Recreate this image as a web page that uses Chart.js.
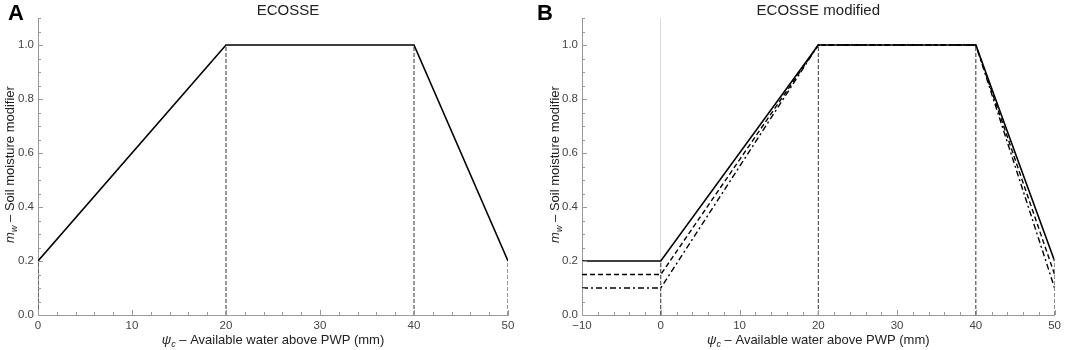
<!DOCTYPE html>
<html>
<head>
<meta charset="utf-8">
<script src="https://cdn.jsdelivr.net/npm/chart.js@4/dist/chart.umd.min.js"></script>
<style>
  body { margin: 0; background: #fff; font-family: "Liberation Sans", Arial, sans-serif; }
  #wrap { position: relative; width: 1065px; height: 350px; }
  .panel { position: absolute; top: 0; height: 350px; }
  #pa { left: 0; width: 530px; }
  #pb { left: 530px; width: 535px; }
  .tag { position: absolute; top: 0px; font-weight: bold; font-size: 22px; color: #000; }
</style>
</head>
<body>
<div id="wrap">
  <div class="panel" id="pa"><canvas id="chartA"></canvas></div>
  <div class="panel" id="pb"><canvas id="chartB"></canvas></div>
  <div class="tag" style="left:8px">A</div>
  <div class="tag" style="left:537px">B</div>
</div>
<script>
// panel A - original ECOSSE
var xA = [0, 20, 40, 50];
var yA = [0.2, 1.0, 1.0, 0.2];
var dropXA = [0, 20, 40, 50];
var dropTopA = [0.2, 1.0, 1.0, 0.2];

// panel B - modified, three variants
var xB = [-10, 0, 20, 40, 50];
var yB1 = [0.2, 0.2, 1.0, 1.0, 0.2];
var yB2 = [0.15, 0.15, 1.0, 1.0, 0.15];
var yB3 = [0.1, 0.1, 1.0, 1.0, 0.1];
var dropXB = [0, 20, 40, 50];
var dropTopB = [0.2, 1.0, 1.0, 0.2];

var titles = ['ECOSSE', 'ECOSSE modified'];
var xTitle = [['ψ', 'italic 13px'], ['c', 'italic 9px', 3], [' – Available water above PWP (mm)', '13px']];
var yTitle = [['m', 'italic 13px'], ['w', 'italic 9px', 3], [' – Soil moisture modifier', '13px']];

var FONT = '"Liberation Sans", Arial, sans-serif';

function pts(xs, ys) {
  return xs.map(function(x, i) { return { x: x, y: ys[i] }; });
}

function drops(xs, tops) {
  return xs.map(function(x, i) {
    return {
      data: [{ x: x, y: 0 }, { x: x, y: tops[i] }],
      borderColor: '#333', borderWidth: 1, borderDash: [4, 2],
      pointRadius: 0, fill: false
    };
  });
}

function drawParts(ctx, parts, cx, cy) {
  var w = 0;
  parts.forEach(function(p) { ctx.font = p[1] + ' ' + FONT; w += ctx.measureText(p[0]).width; });
  var x = cx - w / 2;
  parts.forEach(function(p) {
    ctx.font = p[1] + ' ' + FONT;
    ctx.fillText(p[0], x, cy + (p[2] || 0));
    x += ctx.measureText(p[0]).width;
  });
}

// titles, axis titles and inward tick marks
var decor = {
  id: 'decor',
  afterDraw: function(chart) {
    var ctx = chart.ctx, a = chart.chartArea, o = chart.options.plugins.decor;
    ctx.save();
    ctx.fillStyle = '#222';
    ctx.textBaseline = 'alphabetic';
    ctx.font = '15px ' + FONT;
    ctx.textAlign = 'center';
    ctx.fillText(o.title, (a.left + a.right) / 2 + o.titleDX, 15);
    ctx.textAlign = 'left';
    drawParts(ctx, xTitle, (a.left + a.right) / 2, 344);
    ctx.translate(o.yTitleX, (a.top + a.bottom) / 2 - 2);
    ctx.rotate(-Math.PI / 2);
    drawParts(ctx, yTitle, 0, 0);
    ctx.restore();

    ctx.save();
    ctx.strokeStyle = '#999';
    ctx.lineWidth = 1;
    var sx = chart.scales.x, sy = chart.scales.y;
    sx.ticks.forEach(function(t) {
      var px = Math.round(sx.getPixelForValue(t.value)) + 0.5;
      var len = t.value % 10 === 0 ? 5 : 3;
      ctx.beginPath(); ctx.moveTo(px, a.bottom); ctx.lineTo(px, a.bottom - len); ctx.stroke();
    });
    sy.ticks.forEach(function(t) {
      var py = Math.round(sy.getPixelForValue(t.value)) + 0.5;
      var major = Math.abs(t.value / 0.2 - Math.round(t.value / 0.2)) < 1e-6;
      var len = major ? 5 : 3;
      ctx.beginPath(); ctx.moveTo(a.left, py); ctx.lineTo(a.left + len, py); ctx.stroke();
    });
    ctx.restore();
  }
};

function makeChart(id, datasets, xmin, yWidth, padRight, title, titleDX, yTitleX, zeroLine) {
  return new Chart(document.getElementById(id), {
    type: 'line',
    data: { datasets: datasets },
    plugins: [decor],
    options: {
      responsive: true,
      maintainAspectRatio: false,
      animation: false,
      layout: { padding: { top: 18, right: padRight, left: 0, bottom: 0 } },
      plugins: {
        legend: { display: false },
        tooltip: { enabled: false },
        decor: { title: title, titleDX: titleDX, yTitleX: yTitleX }
      },
      scales: {
        x: {
          type: 'linear', min: xmin, max: 50,
          border: { color: '#999' },
          grid: {
            drawTicks: false,
            color: function(c) { return (zeroLine && c.tick && c.tick.value === 0) ? '#ddd' : 'rgba(0,0,0,0)'; }
          },
          ticks: {
            stepSize: 2, autoSkip: false, maxRotation: 0, padding: 4,
            color: '#444', font: { size: 11.5, family: FONT },
            callback: function(v) { return v % 10 === 0 ? String(v).replace('-', '−') : ''; }
          },
          afterFit: function(s) { s.height = 35; }
        },
        y: {
          min: 0, max: 1.1,
          border: { color: '#999' },
          grid: { drawTicks: false, color: 'rgba(0,0,0,0)' },
          ticks: {
            stepSize: 0.05, autoSkip: false, padding: 4,
            color: '#444', font: { size: 11.5, family: FONT },
            callback: function(v) {
              return Math.abs(v / 0.2 - Math.round(v / 0.2)) < 1e-6 ? v.toFixed(1) : '';
            }
          },
          afterFit: function(s) { s.width = yWidth; }
        }
      }
    }
  });
}

var dsA = drops(dropXA, dropTopA).concat([
  { data: pts(xA, yA), borderColor: '#000', borderWidth: 1.6, pointRadius: 0, fill: false }
]);

var dsB = drops(dropXB, dropTopB).concat([
  { data: pts(xB, yB3), borderColor: '#000', borderWidth: 1.4, borderDash: [6, 3, 2, 3], pointRadius: 0, fill: false },
  { data: pts(xB, yB2), borderColor: '#000', borderWidth: 1.4, borderDash: [5, 3], pointRadius: 0, fill: false },
  { data: pts(xB, yB1), borderColor: '#000', borderWidth: 1.6, pointRadius: 0, fill: false }
]);

makeChart('chartA', dsA, 0, 38, 22, titles[0], 15, 14, false);
makeChart('chartB', dsB, -10, 52, 10, titles[1], 0, 29, true);
</script>
</body>
</html>
